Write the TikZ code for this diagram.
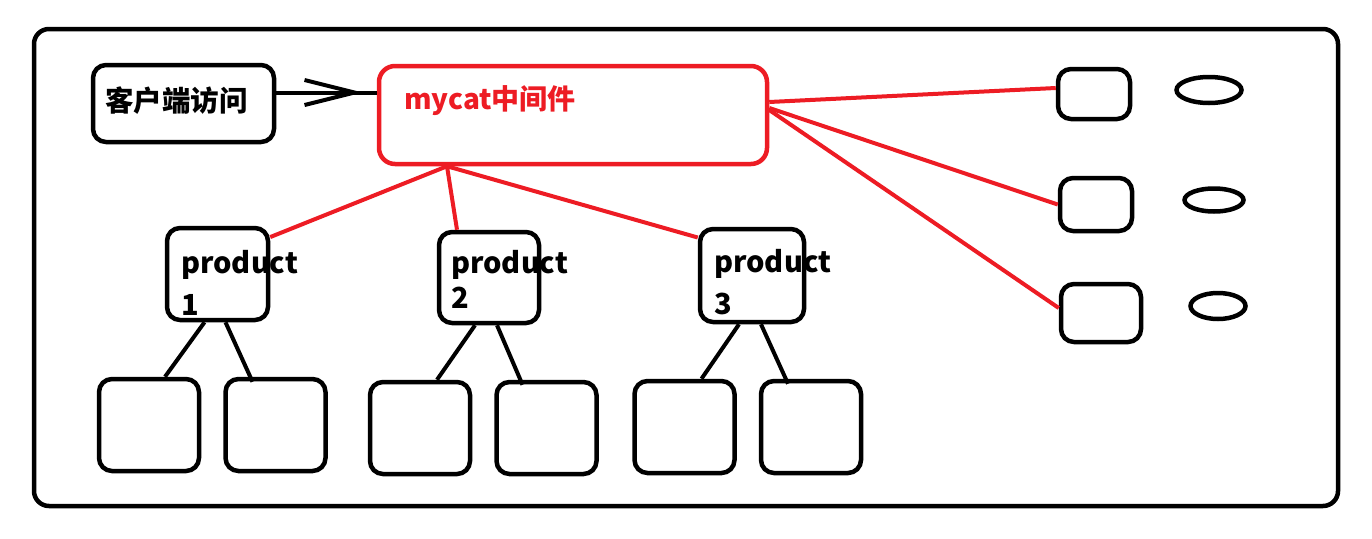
\documentclass[tikz,border=0pt]{standalone}
\usepackage{fontspec}
\usepackage{xcolor}
\usetikzlibrary{positioning,arrows.meta,shapes.geometric}
\newfontfamily\cjk{Noto Sans CJK SC}
\definecolor{paintred}{RGB}{237,28,36}

\begin{document}
\begin{tikzpicture}[x=1pt,y=-1pt,node distance=126.5pt,line width=4.5pt,
    box/.style={draw,rounded corners=13pt,inner sep=0pt},
    leaf box/.style={box,minimum width=100pt,minimum height=92pt},
    red line/.style={paintred,line width=4pt},
    black line/.style={black,line width=4pt},
    prod text/.style={font=\cjk\bfseries\fontsize{29}{42}\selectfont,align=left,inner sep=0pt,anchor=base west}]

                \useasboundingbox (0,0) rectangle (1372,538);
                \draw[rounded corners=15pt] (34,29) rectangle (1338,506);

                \node[box, minimum width=181pt, minimum height=77pt] (1) at (183.5,103.5) {};
                \node[font=\cjk\bfseries\fontsize{28.5}{30}\selectfont, anchor=west, inner sep=0pt] (t1) at (103,101) {客户端访问};
                \node[box, paintred, minimum width=388pt, minimum height=98pt, rounded corners=16pt] (2) at (573,115) {};
                \node[font=\cjk\bfseries\fontsize{28}{30}\selectfont, text=paintred, anchor=west, inner sep=0pt] (t2) at (402,101) {mycat中间件};

                \node[box, minimum width=101pt, minimum height=92pt] (3) at (217.5,274) {};
                \node[box, minimum width=100pt, minimum height=91pt] (4) at (489,277.5) {};
                \node[box, minimum width=104pt, minimum height=93pt] (5) at (752,275.5) {};
                % base anchor sits on the last line
                \node[prod text] (t3) at (179,315) {product\\1};
                \node[prod text] (t4) at (449,308) {product\\[-7pt]2};
                \node[prod text] (t5) at (712,314) {product\\3};

                \node[leaf box] (6) at (149,425) {};
                \node[leaf box] (7) [right of = 6] {};
                \node[leaf box] (8) at (420,428) {};
                \node[leaf box] (9) [right of = 8] {};
                \node[leaf box] (10) at (684.5,427) {};
                \node[leaf box] (11) [right of = 10] {};

                \node[box, minimum width=72pt, minimum height=50pt] (12) at (1094,94) {};
                \node[box, minimum width=72pt, minimum height=53pt] (13) at (1096,204.5) {};
                \node[box, minimum width=80pt, minimum height=58pt] (14) at (1101,313) {};
                \node[ellipse, draw, inner sep=0pt, minimum width=65pt, minimum height=26pt] (15) at (1209,90) {};
                \node[ellipse, draw, inner sep=0pt, minimum width=59pt, minimum height=23pt] (16) at (1214,200) {};
                \node[ellipse, draw, inner sep=0pt, minimum width=55pt, minimum height=26pt] (17) at (1218,306) {};

                \coordinate (tip) at ([xshift=-14pt,yshift=11pt]1.east -| 2.west);
                \coordinate (hub) at ([xshift=-126pt]2.south);

                \draw[black line] ([yshift=11pt]1.east) -- ([yshift=11pt]1.east -| 2.west);
                \draw[black line, -{Straight Barb[length=50pt,width=25pt]}] ([yshift=11pt]1.east) -- (tip);

                \draw[red line] ([yshift=13pt]2.east) -- ([yshift=6pt]12.west);
                \draw[red line] ([yshift=7pt]2.east) -- (13.west);
                \draw[red line] ([yshift=5pt]2.east) -- ([yshift=5pt]14.west);
                \draw[red line] (hub) -- (3.35);
                \draw[red line] (hub) -- ([xshift=-32pt]4.north);
                \draw[red line] (hub) -- (5.145);

                \draw[black line] ([xshift=-13pt]3.south) -- ([xshift=16pt]6.north);
                \draw[black line] ([xshift=8pt]3.south) -- ([xshift=-23pt,yshift=-5pt]7.north);
                \draw[black line] ([xshift=-14pt]4.south) -- ([xshift=17pt]8.north);
                \draw[black line] ([xshift=8pt]4.south) -- ([xshift=-24pt,yshift=-5pt]9.north);
                \draw[black line] ([xshift=-13pt]5.south) -- ([xshift=17pt]10.north);
                \draw[black line] ([xshift=9pt]5.south) -- ([xshift=-23pt,yshift=-5pt]11.north);

                ;
            \end{tikzpicture}
\end{document}
